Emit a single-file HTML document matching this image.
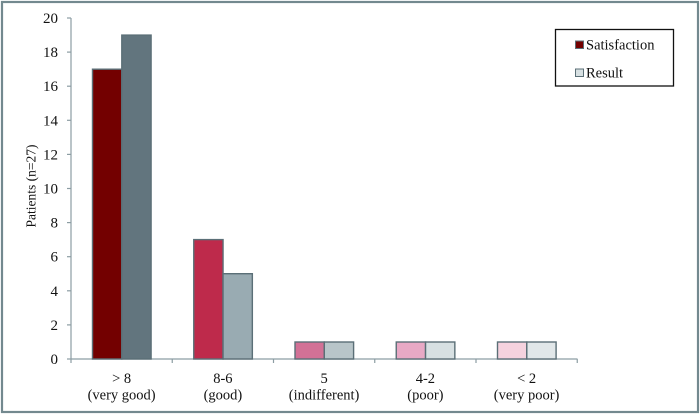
<!DOCTYPE html>
<html>
<head>
<meta charset="utf-8">
<style>
html,body{margin:0;padding:0;background:#fff;}
svg{display:block;}
svg text{font-family:"Liberation Serif","DejaVu Serif","Times New Roman",serif !important;fill:#111;}
</style>
</head>
<body>
<svg width="700" height="414" viewBox="0 0 700 414" xmlns="http://www.w3.org/2000/svg" font-family="'Liberation Serif', 'DejaVu Serif', serif">
  <rect x="0" y="0" width="700" height="414" fill="#fff"/>
  <rect x="2" y="2" width="696" height="410" fill="none" stroke="#73898f" stroke-width="2.2"/>

  <!-- axes -->
  <g stroke="#8c9da3" stroke-width="1.2" fill="none">
    <line x1="71" y1="18" x2="71" y2="359"/>
    <line x1="71" y1="359" x2="577.5" y2="359"/>
    <line x1="67" y1="18" x2="71" y2="18"/>
    <line x1="67" y1="52.1" x2="71" y2="52.1"/>
    <line x1="67" y1="86.2" x2="71" y2="86.2"/>
    <line x1="67" y1="120.3" x2="71" y2="120.3"/>
    <line x1="67" y1="154.4" x2="71" y2="154.4"/>
    <line x1="67" y1="188.5" x2="71" y2="188.5"/>
    <line x1="67" y1="222.6" x2="71" y2="222.6"/>
    <line x1="67" y1="256.7" x2="71" y2="256.7"/>
    <line x1="67" y1="290.8" x2="71" y2="290.8"/>
    <line x1="67" y1="324.9" x2="71" y2="324.9"/>
    <line x1="67" y1="359" x2="71" y2="359"/>
    <line x1="71" y1="359" x2="71" y2="363"/>
    <line x1="172.25" y1="359" x2="172.25" y2="363"/>
    <line x1="273.5" y1="359" x2="273.5" y2="363"/>
    <line x1="374.75" y1="359" x2="374.75" y2="363"/>
    <line x1="476" y1="359" x2="476" y2="363"/>
    <line x1="577.25" y1="359" x2="577.25" y2="363"/>
  </g>

  <!-- y labels -->
  <g font-size="15" text-anchor="end" style="font-family:'Liberation Serif','DejaVu Serif',serif">
    <text x="58" y="23">20</text>
    <text x="58" y="57.1">18</text>
    <text x="58" y="91.2">16</text>
    <text x="58" y="125.3">14</text>
    <text x="58" y="159.4">12</text>
    <text x="58" y="193.5">10</text>
    <text x="58" y="227.6">8</text>
    <text x="58" y="261.7">6</text>
    <text x="58" y="295.8">4</text>
    <text x="58" y="329.9">2</text>
    <text x="58" y="364">0</text>
  </g>

  <!-- y title -->
  <text transform="translate(35.5,186) rotate(-90)" font-size="13.5" text-anchor="middle" style="font-family:'Liberation Serif','DejaVu Serif',serif">Patients (n=27)</text>

  <!-- bars -->
  <g stroke="#5b6f77" stroke-width="1.4">
    <rect x="92.5" y="69.2" width="29.3" height="289.8" fill="#730000"/>
    <rect x="121.8" y="35.1" width="29.3" height="323.9" fill="#62757e"/>
    <rect x="193.75" y="239.6" width="29.3" height="119.4" fill="#be2a4b"/>
    <rect x="223.05" y="273.7" width="29.3" height="85.3" fill="#99abb2"/>
    <rect x="295" y="342" width="29.3" height="17" fill="#d27196"/>
    <rect x="324.3" y="342" width="29.3" height="17" fill="#b8c5c9"/>
    <rect x="396.25" y="342" width="29.3" height="17" fill="#e8a9c5"/>
    <rect x="425.55" y="342" width="29.3" height="17" fill="#d7e0e2"/>
    <rect x="497.5" y="342" width="29.3" height="17" fill="#f5d2de"/>
    <rect x="526.8" y="342" width="29.3" height="17" fill="#e1e7e9"/>
  </g>

  <!-- x labels -->
  <g font-size="14.5" text-anchor="middle" style="font-family:'Liberation Serif','DejaVu Serif',serif">
    <text x="121.6" y="383">&gt; 8</text>
    <text x="121.6" y="399.5">(very good)</text>
    <text x="222.9" y="383">8-6</text>
    <text x="222.9" y="399.5">(good)</text>
    <text x="324.1" y="383">5</text>
    <text x="324.1" y="399.5">(indifferent)</text>
    <text x="425.4" y="383">4-2</text>
    <text x="425.4" y="399.5">(poor)</text>
    <text x="526.6" y="383">&lt; 2</text>
    <text x="526.6" y="399.5">(very poor)</text>
  </g>

  <!-- legend -->
  <rect x="555.5" y="29.5" width="118" height="56.5" fill="#fff" stroke="#111" stroke-width="1.3"/>
  <rect x="575.5" y="41" width="8" height="7.5" fill="#730000" stroke="#5b6f77" stroke-width="1"/>
  <text x="586" y="49.5" font-size="14.5" style="font-family:'Liberation Serif','DejaVu Serif',serif">Satisfaction</text>
  <rect x="575.5" y="69" width="8" height="7.5" fill="#d7e0e2" stroke="#5b6f77" stroke-width="1"/>
  <text x="586" y="77.5" font-size="14.5" style="font-family:'Liberation Serif','DejaVu Serif',serif">Result</text>
</svg>
</body>
</html>
